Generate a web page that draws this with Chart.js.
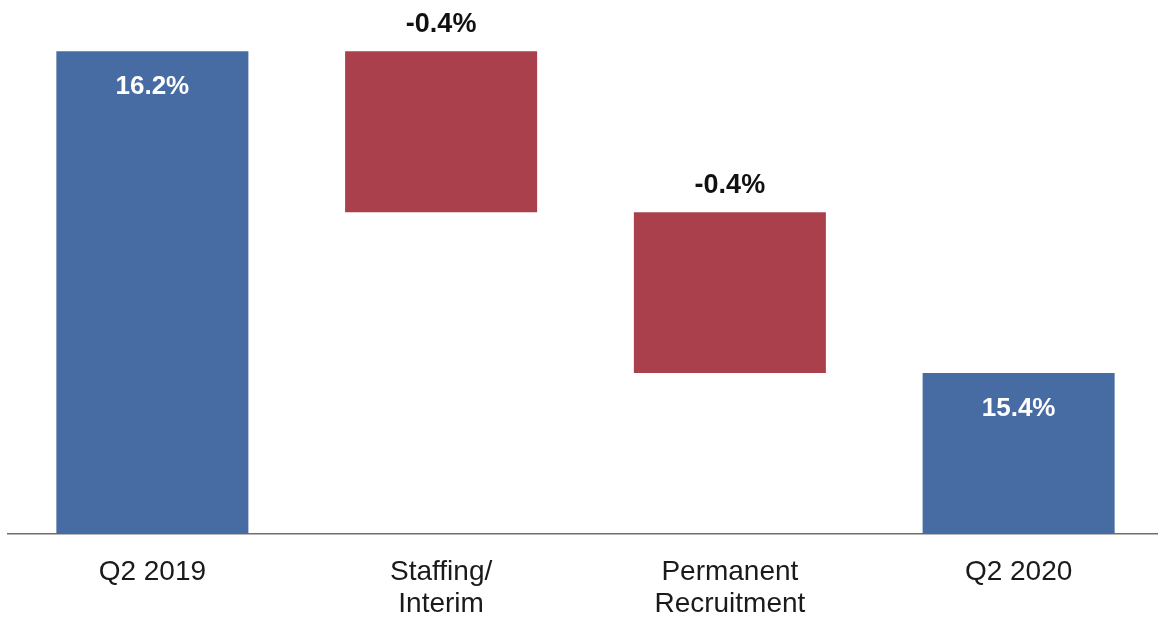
<!DOCTYPE html>
<html lang="en">
<head>
    <meta charset="UTF-8">
    <title>Q2 2019 to Q2 2020 bridge</title>
    <script src="https://cdn.jsdelivr.net/npm/chart.js"></script>
    <style>
        html, body {
            margin: 0;
            padding: 0;
            background: #ffffff;
            overflow: hidden;
        }
        #chartContainer {
            position: relative;
            width: 1163px;
            height: 620px;
        }
    </style>
</head>
<body>

<div id="chartContainer">
    <canvas id="bridgeChart"></canvas>
</div>

<script>
    // Categories (multi-line labels) and bar values
    const categories = [['Q2 2019'], ['Staffing/', 'Interim'], ['Permanent', 'Recruitment'], ['Q2 2020']];
    const values = [16.2, -0.4, -0.4, 15.4];
    const barKinds = ['total', 'delta', 'delta', 'total'];

    // Value axis range
    const axisMin = 15.0;
    const axisMax = 16.3;

    const blue = '#476ca3';
    const red = '#a9404b';

    // Build floating [start, end] ranges for the waterfall
    let running = 0;
    const ranges = values.map((v, i) => {
        if (barKinds[i] === 'total') {
            running = v;
            return [axisMin, v];
        }
        const start = running;
        running = Math.round((running + v) * 10) / 10;
        return [running, start];
    });

    // Draws the value labels: inside totals (white), above changes (black)
    const valueLabels = {
        id: 'valueLabels',
        afterDatasetsDraw(chart) {
            const ctx = chart.ctx;
            const meta = chart.getDatasetMeta(0);
            const yScale = chart.scales.y;
            ctx.save();
            ctx.textAlign = 'center';
            ctx.textBaseline = 'middle';
            meta.data.forEach((bar, i) => {
                const top = yScale.getPixelForValue(ranges[i][1]);
                const text = values[i].toFixed(1) + '%';
                if (barKinds[i] === 'total') {
                    ctx.font = 'bold 26px "Liberation Sans", Arial, sans-serif';
                    ctx.fillStyle = '#ffffff';
                    ctx.fillText(text, bar.x, top + 36);
                } else {
                    ctx.font = 'bold 27px "Liberation Sans", Arial, sans-serif';
                    ctx.fillStyle = '#111111';
                    ctx.fillText(text, bar.x, top - 27);
                }
            });
            ctx.restore();
        }
    };

    const ctx = document.getElementById('bridgeChart').getContext('2d');
    new Chart(ctx, {
        type: 'bar',
        data: {
            labels: categories,
            datasets: [{
                data: ranges,
                backgroundColor: barKinds.map(k => k === 'total' ? blue : red),
                borderWidth: 0,
                borderSkipped: false,
                barPercentage: 1.0,
                categoryPercentage: 0.665
            }]
        },
        options: {
            responsive: true,
            maintainAspectRatio: false,
            animation: false,
            layout: {
                padding: { top: 11, left: 8, right: 0, bottom: 0 }
            },
            plugins: {
                legend: { display: false },
                tooltip: { enabled: false }
            },
            scales: {
                x: {
                    grid: { display: false, drawTicks: false },
                    border: { display: true, color: '#6e6e6e', width: 1.5 },
                    ticks: {
                        color: '#1a1a1a',
                        padding: 22,
                        font: { family: '"Liberation Sans", Arial, sans-serif', size: 28, lineHeight: 1.15 }
                    },
                    afterFit(scale) {
                        scale.height = 86;
                    }
                },
                y: {
                    display: false,
                    min: axisMin,
                    max: axisMax
                }
            }
        },
        plugins: [valueLabels]
    });
</script>

</body>
</html>
